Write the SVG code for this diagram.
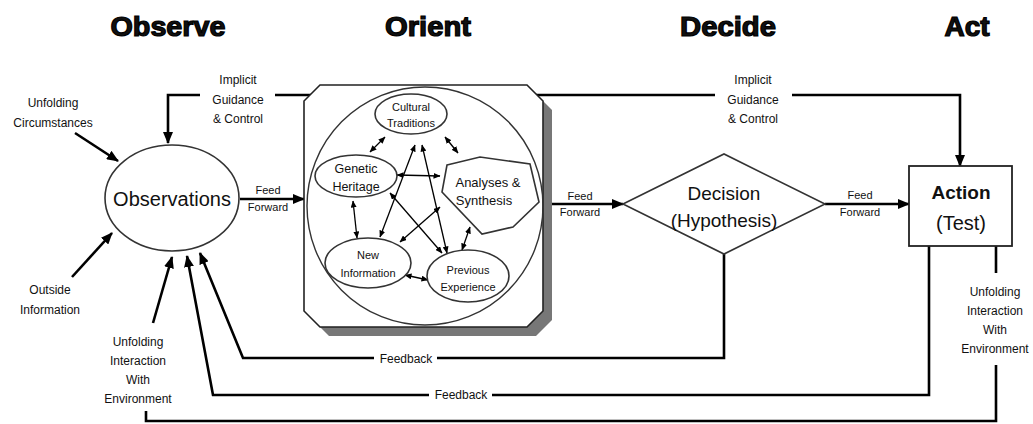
<svg xmlns="http://www.w3.org/2000/svg" width="1033" height="424" viewBox="0 0 1033 424">
  <style>
    text { font-family: "Liberation Sans", Arial, sans-serif; fill: #111; text-anchor: middle; }
    .head { font-size: 27px; font-weight: bold; stroke: #000; stroke-width: 1.2; }
    .lbl { font-size: 12px; }
    .ff { font-size: 11px; }
    .inner { font-size: 11px; }
    .shape { fill: #fff; stroke: #333; stroke-width: 1.6; }
    .wire { fill: none; stroke: #000; stroke-width: 2.6; }
    .thin { fill: none; stroke: #000; stroke-width: 1.3; }
  </style>
  <defs>
    <marker id="arrow" markerUnits="userSpaceOnUse" markerWidth="12" markerHeight="10" refX="11" refY="5" orient="auto">
      <path d="M0,0 L12,5 L0,10 z" fill="#000"/>
    </marker>
    <marker id="tip" markerUnits="userSpaceOnUse" markerWidth="7" markerHeight="6" refX="6.5" refY="3" orient="auto-start-reverse">
      <path d="M0,0 L7,3 L0,6 z" fill="#000"/>
    </marker>
  </defs>

  <!-- phase headings -->
  <g id="headings">
    <text class="head" x="168" y="36" textLength="115" lengthAdjust="spacingAndGlyphs">Observe</text>
    <text class="head" x="428" y="36" textLength="86" lengthAdjust="spacingAndGlyphs">Orient</text>
    <text class="head" x="728" y="36" textLength="96" lengthAdjust="spacingAndGlyphs">Decide</text>
    <text class="head" x="967" y="36" textLength="45" lengthAdjust="spacingAndGlyphs">Act</text>
  </g>

  <!-- connectors -->
  <g id="connectors">
    <!-- external inputs into Observations -->
    <line class="wire" x1="75" y1="133" x2="118" y2="161" marker-end="url(#arrow)"/>
    <line class="wire" x1="72" y1="277" x2="112" y2="233" marker-end="url(#arrow)"/>
    <line class="wire" x1="153" y1="323" x2="172" y2="257" marker-end="url(#arrow)"/>
    <!-- implicit guidance & control, back to Observations -->
    <polyline class="wire" points="200,95 168,95 168,143" marker-end="url(#arrow)"/>
    <line class="wire" x1="275" y1="95" x2="311" y2="95"/>
    <!-- implicit guidance & control, on to Action -->
    <line class="wire" x1="533" y1="95" x2="715" y2="95"/>
    <polyline class="wire" points="792,95 960,95 960,166" marker-end="url(#arrow)"/>
    <!-- feed forward -->
    <line class="wire" x1="240" y1="199" x2="304" y2="199" marker-end="url(#arrow)"/>
    <line class="wire" x1="543" y1="204" x2="623" y2="204" marker-end="url(#arrow)"/>
    <line class="wire" x1="825" y1="204" x2="909" y2="204" marker-end="url(#arrow)"/>
    <!-- feedback from Decision -->
    <polyline class="wire" points="724,253 724,358 437,358"/>
    <polyline class="wire" points="374,358 243,358 200,253" marker-end="url(#arrow)"/>
    <!-- feedback from Action -->
    <polyline class="wire" points="929,246 929,395 492,395"/>
    <polyline class="wire" points="429,395 213,395 187,256" marker-end="url(#arrow)"/>
    <!-- unfolding interaction with environment -->
    <line class="wire" x1="996" y1="246" x2="996" y2="273"/>
    <polyline class="wire" points="996,365 996,421 146,421 146,411"/>
  </g>

  <!-- connector labels -->
  <g id="labels">
    <text class="lbl" x="53" y="107">Unfolding</text>
    <text class="lbl" x="53" y="127">Circumstances</text>
    <text class="lbl" x="50" y="294">Outside</text>
    <text class="lbl" x="50" y="314">Information</text>
    <text class="lbl" x="238" y="84">Implicit</text>
    <text class="lbl" x="238" y="104">Guidance</text>
    <text class="lbl" x="238" y="123">&amp; Control</text>
    <text class="lbl" x="753" y="84">Implicit</text>
    <text class="lbl" x="753" y="104">Guidance</text>
    <text class="lbl" x="753" y="123">&amp; Control</text>
    <text class="ff" x="268" y="194">Feed</text>
    <text class="ff" x="268" y="211">Forward</text>
    <text class="ff" x="580" y="200">Feed</text>
    <text class="ff" x="580" y="216">Forward</text>
    <text class="ff" x="860" y="199">Feed</text>
    <text class="ff" x="860" y="216">Forward</text>
    <text class="lbl" x="406" y="363">Feedback</text>
    <text class="lbl" x="461" y="399">Feedback</text>
    <text class="lbl" x="138" y="346">Unfolding</text>
    <text class="lbl" x="138" y="365">Interaction</text>
    <text class="lbl" x="138" y="384">With</text>
    <text class="lbl" x="138" y="403">Environment</text>
    <text class="lbl" x="995" y="296">Unfolding</text>
    <text class="lbl" x="995" y="315">Interaction</text>
    <text class="lbl" x="995" y="334">With</text>
    <text class="lbl" x="995" y="353">Environment</text>
  </g>

  <!-- Observe -->
  <g id="observations">
    <ellipse class="shape" cx="172" cy="198" rx="67" ry="53"/>
    <text x="172" y="206" style="font-size:20px">Observations</text>
  </g>

  <!-- Orient -->
  <g id="orient">
    <polygon points="329,94 536,94 552,110 552,320 536,336 329,336 313,320 313,110" fill="#777"/>
    <polygon points="320,85 527,85 543,101 543,311 527,327 320,327 304,311 304,101" fill="#fff" stroke="#222" stroke-width="1.6"/>
    <ellipse cx="425" cy="206" rx="118" ry="119" fill="none" stroke="#333" stroke-width="1.4"/>

    <g id="orient-links">
      <line class="thin" x1="385" y1="137" x2="370" y2="152" marker-start="url(#tip)" marker-end="url(#tip)"/>
      <line class="thin" x1="445" y1="137" x2="458" y2="153" marker-start="url(#tip)" marker-end="url(#tip)"/>
      <line class="thin" x1="397" y1="175" x2="440" y2="176" marker-start="url(#tip)" marker-end="url(#tip)"/>
      <line class="thin" x1="353" y1="201" x2="357" y2="238" marker-start="url(#tip)" marker-end="url(#tip)"/>
      <line class="thin" x1="415" y1="145" x2="380" y2="237" marker-start="url(#tip)" marker-end="url(#tip)"/>
      <line class="thin" x1="422" y1="145" x2="447" y2="253" marker-start="url(#tip)" marker-end="url(#tip)"/>
      <line class="thin" x1="390" y1="193" x2="442" y2="253" marker-start="url(#tip)" marker-end="url(#tip)"/>
      <line class="thin" x1="440" y1="207" x2="400" y2="242" marker-start="url(#tip)" marker-end="url(#tip)"/>
      <line class="thin" x1="470" y1="227" x2="462" y2="250" marker-start="url(#tip)" marker-end="url(#tip)"/>
      <line class="thin" x1="405" y1="275" x2="428" y2="280" marker-start="url(#tip)" marker-end="url(#tip)"/>
    </g>

    <g id="cultural-traditions">
      <ellipse class="shape" cx="411" cy="114" rx="36" ry="20"/>
      <text class="inner" x="411" y="111">Cultural</text>
      <text class="inner" x="411" y="127">Traditions</text>
    </g>
    <g id="genetic-heritage">
      <ellipse class="shape" cx="356" cy="176" rx="41" ry="21"/>
      <text x="356" y="173" style="font-size:12.5px">Genetic</text>
      <text x="356" y="191" style="font-size:12.5px">Heritage</text>
    </g>
    <g id="analyses-synthesis">
      <polygon class="shape" points="447,165 480,157 530,164 539,202 513,227 482,234 442,192"/>
      <text x="488" y="187" style="font-size:13px">Analyses &amp;</text>
      <text x="484" y="205" style="font-size:13px">Synthesis</text>
    </g>
    <g id="new-information">
      <ellipse class="shape" cx="368" cy="263" rx="43" ry="25"/>
      <text class="inner" x="368" y="259">New</text>
      <text class="inner" x="368" y="277">Information</text>
    </g>
    <g id="previous-experience">
      <ellipse class="shape" cx="468" cy="276" rx="41" ry="26"/>
      <text class="inner" x="468" y="274">Previous</text>
      <text class="inner" x="468" y="291">Experience</text>
    </g>
  </g>

  <!-- Decide -->
  <g id="decision">
    <polygon class="shape" points="623,204 724,154 825,204 724,254"/>
    <text x="724" y="200" style="font-size:19px">Decision</text>
    <text x="724" y="227" style="font-size:19px">(Hypothesis)</text>
  </g>

  <!-- Act -->
  <g id="action">
    <rect x="909" y="166" width="103" height="80" fill="#fff" stroke="#222" stroke-width="1.8"/>
    <text x="961" y="199" style="font-size:19px;font-weight:bold">Action</text>
    <text x="961" y="230" style="font-size:20px">(Test)</text>
  </g>
</svg>
